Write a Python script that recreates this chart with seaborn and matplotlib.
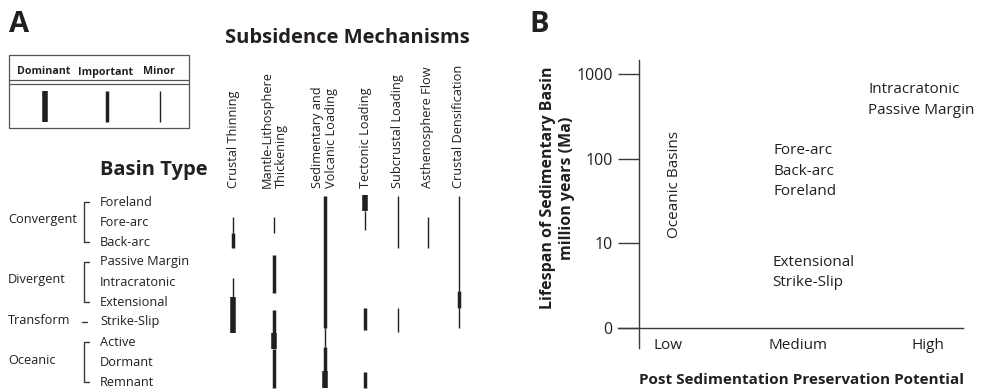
import numpy as np
import pandas as pd
import matplotlib
matplotlib.use("Agg")
import matplotlib.pyplot as plt
from matplotlib.lines import Line2D
from matplotlib.patches import Rectangle
import seaborn as sns

# ---- data: panel A -------------------------------------------------------
basins = ["Foreland", "Fore-arc", "Back-arc", "Passive Margin", "Intracratonic",
          "Extensional", "Strike-Slip", "Active", "Dormant", "Remnant"]
groups = ["Convergent", "Divergent", "Transform", "Oceanic"]
group_rows = [(0, 2), (3, 5), (6, 6), (7, 9)]
mechanisms = ["Crustal Thinning", "Mantle-Lithosphere\nThickening",
              "Sedimentary and\nVolcanic Loading", "Tectonic Loading",
              "Subcrustal Loading", "Asthenosphere Flow", "Crustal Densification"]
tiers = ["Dominant", "Important", "Minor"]

# segments per mechanism: (start row, end row, tier)
seg_thinning = [(0.75, 1.55, "Minor"), (1.55, 2.3, "Important"),
                (3.8, 4.75, "Minor"), (4.75, 6.55, "Dominant")]
seg_mantle = [(0.75, 1.55, "Minor"), (2.65, 4.55, "Important"),
              (5.4, 6.55, "Important"), (6.55, 7.35, "Dominant"), (7.35, 9.3, "Important")]
seg_sediment = [(-0.3, 6.3, "Important"), (6.3, 7.25, "Minor"),
                (7.25, 8.45, "Important"), (8.45, 9.3, "Dominant")]
seg_tectonic = [(-0.35, 0.45, "Dominant"), (0.45, 1.4, "Minor"),
                (5.3, 6.4, "Important"), (8.5, 9.3, "Important")]
seg_subcrustal = [(-0.3, 2.3, "Minor"), (5.3, 6.5, "Minor")]
seg_astheno = [(0.75, 2.3, "Minor")]
seg_densif = [(-0.3, 4.45, "Minor"), (4.45, 5.3, "Important"), (5.3, 6.3, "Minor")]
segments = [seg_thinning, seg_mantle, seg_sediment, seg_tectonic,
            seg_subcrustal, seg_astheno, seg_densif]

# ---- data: panel B -------------------------------------------------------
preservation_labels = ["Low", "Medium", "High"]
lifespan_labels = ["0", "10", "100", "1000"]
b_names = ["Oceanic Basins", "Fore-arc\nBack-arc\nForeland",
           "Extensional\nStrike-Slip", "Intracratonic\nPassive Margin"]
b_preservation = [0.05, 0.81, 0.80, 1.54]
b_lifespan = [1.69, 1.85, 0.655, 2.69]

# ---- layout / style ------------------------------------------------------
W, H = 982, 390
ink = "#231f20"
line_c = "#3a3a3a"
col_x = [233, 274, 325, 365, 398, 428, 459]       # panel A column positions (px)
tier_width = {"Dominant": 4.0, "Important": 2.5, "Minor": 1.0}
fs_a = 9.2      # panel A small text
fs_b = 11.0     # panel B text

sns.set_theme(style="white")
plt.rcParams["font.family"] = ["Open Sans", "DejaVu Sans"]
plt.rcParams["text.color"] = ink

fig = plt.figure(figsize=(W / 100, H / 100), dpi=100)


def fx(x):
    return x / W


def fy(y):
    return 1 - y / H


# ================= panel A =================
axA = fig.add_axes([0, 0, 520 / W, 1])

rows = []
sid = 0
for mi, segs in enumerate(segments):
    for (a, b, t) in segs:
        rows.append({"x": col_x[mi], "r": a, "seg": sid, "tier": t})
        rows.append({"x": col_x[mi], "r": b, "seg": sid, "tier": t})
        sid += 1
df = pd.DataFrame(rows)
sns.lineplot(data=df, x="x", y="r", units="seg", estimator=None, size="tier",
             sizes=tier_width, color=ink, legend=False, sort=False, ax=axA,
             solid_capstyle="butt")
axA.set_xlim(0, 520)
axA.set_ylim(9.4, -10.1)
axA.axis("off")

for i, name in enumerate(basins):
    axA.text(100, i, name, ha="left", va="center", fontsize=fs_a, color=ink)

for g, (a, b) in zip(groups, group_rows):
    axA.text(8, (a + b) / 2 - 0.1, g, ha="left", va="center", fontsize=fs_a, color=ink)
    if a == b:
        axA.plot([82, 87], [a, a], color=line_c, lw=1.0)
    else:
        axA.plot([89, 83.5, 83.5, 89], [a, a, b, b], color=line_c, lw=1.0)

for mi, m in enumerate(mechanisms):
    axA.text(col_x[mi], -0.7, m, rotation=90, rotation_mode="anchor",
             ha="left", va="center", multialignment="left", fontsize=fs_a,
             color=ink, linespacing=1.1)

fig.text(fx(9), fy(24), "A", fontsize=21, fontweight="bold", ha="left", va="center")
fig.text(fx(225), fy(38), "Subsidence Mechanisms", fontsize=14.5,
         fontweight="bold", ha="left", va="center")
fig.text(fx(100), fy(170), "Basin Type", fontsize=14.5, fontweight="bold",
         ha="left", va="center")

# legend box
fig.add_artist(Rectangle((fx(9), fy(128)), 180 / W, 73 / H, fill=False,
                         edgecolor="#555555", lw=0.9, transform=fig.transFigure))
for yy in (80, 84):
    fig.add_artist(Line2D([fx(9), fx(189)], [fy(yy), fy(yy)], color="#555555",
                          lw=0.9, transform=fig.transFigure))
for t, cx in zip(tiers, [44, 106, 159]):
    fig.text(fx(cx), fy(72), t, fontsize=7.7, fontweight="bold", ha="center",
             va="center")
    fig.add_artist(Line2D([fx(cx + 1), fx(cx + 1)], [fy(91), fy(122)], color=ink,
                          lw=tier_width[t], solid_capstyle="butt",
                          transform=fig.transFigure))

# ================= panel B =================
axB = fig.add_axes([fx(618), fy(348), 345 / W, 288 / H])
axB.set_xlim(-0.385, 2.269)
axB.set_ylim(-0.236, 3.165)
for s in ("top", "right"):
    axB.spines[s].set_visible(False)
axB.spines["left"].set_position(("data", -0.223))
axB.spines["bottom"].set_position(("data", 0))
for s in ("left", "bottom"):
    axB.spines[s].set_color(line_c)
    axB.spines[s].set_linewidth(1.0)

axB.set_xticks(range(len(preservation_labels)))
axB.set_xticklabels(preservation_labels)
axB.set_yticks(range(len(lifespan_labels)))
axB.set_yticklabels(lifespan_labels)
axB.tick_params(axis="x", length=0, pad=7, labelsize=fs_b, labelcolor=ink)
axB.tick_params(axis="y", length=15, width=1.0, color=line_c, direction="out",
                pad=4, labelsize=11.5, labelcolor=ink, left=True)

for name, xv, yv in zip(b_names, b_preservation, b_lifespan):
    if name == "Oceanic Basins":
        axB.text(xv, yv, name, rotation=90, ha="center", va="center",
                 fontsize=fs_b, color=ink)
    else:
        axB.text(xv, yv, name, ha="left", va="center", fontsize=fs_b,
                 color=ink, linespacing=1.5)

axB.set_ylabel("Lifespan of Sedimentary Basin\nmillion years (Ma)", fontsize=11.5,
               fontweight="bold", color=ink, linespacing=1.2)
axB.yaxis.set_label_coords(-0.125, 0.556)
axB.set_xlabel("Post Sedimentation Preservation Potential", fontsize=11,
               fontweight="bold", color=ink)
axB.xaxis.set_label_coords(0.533, -0.087)

fig.text(fx(529), fy(24), "B", fontsize=21, fontweight="bold", ha="left", va="center")

fig.savefig("out.png", dpi=100)
